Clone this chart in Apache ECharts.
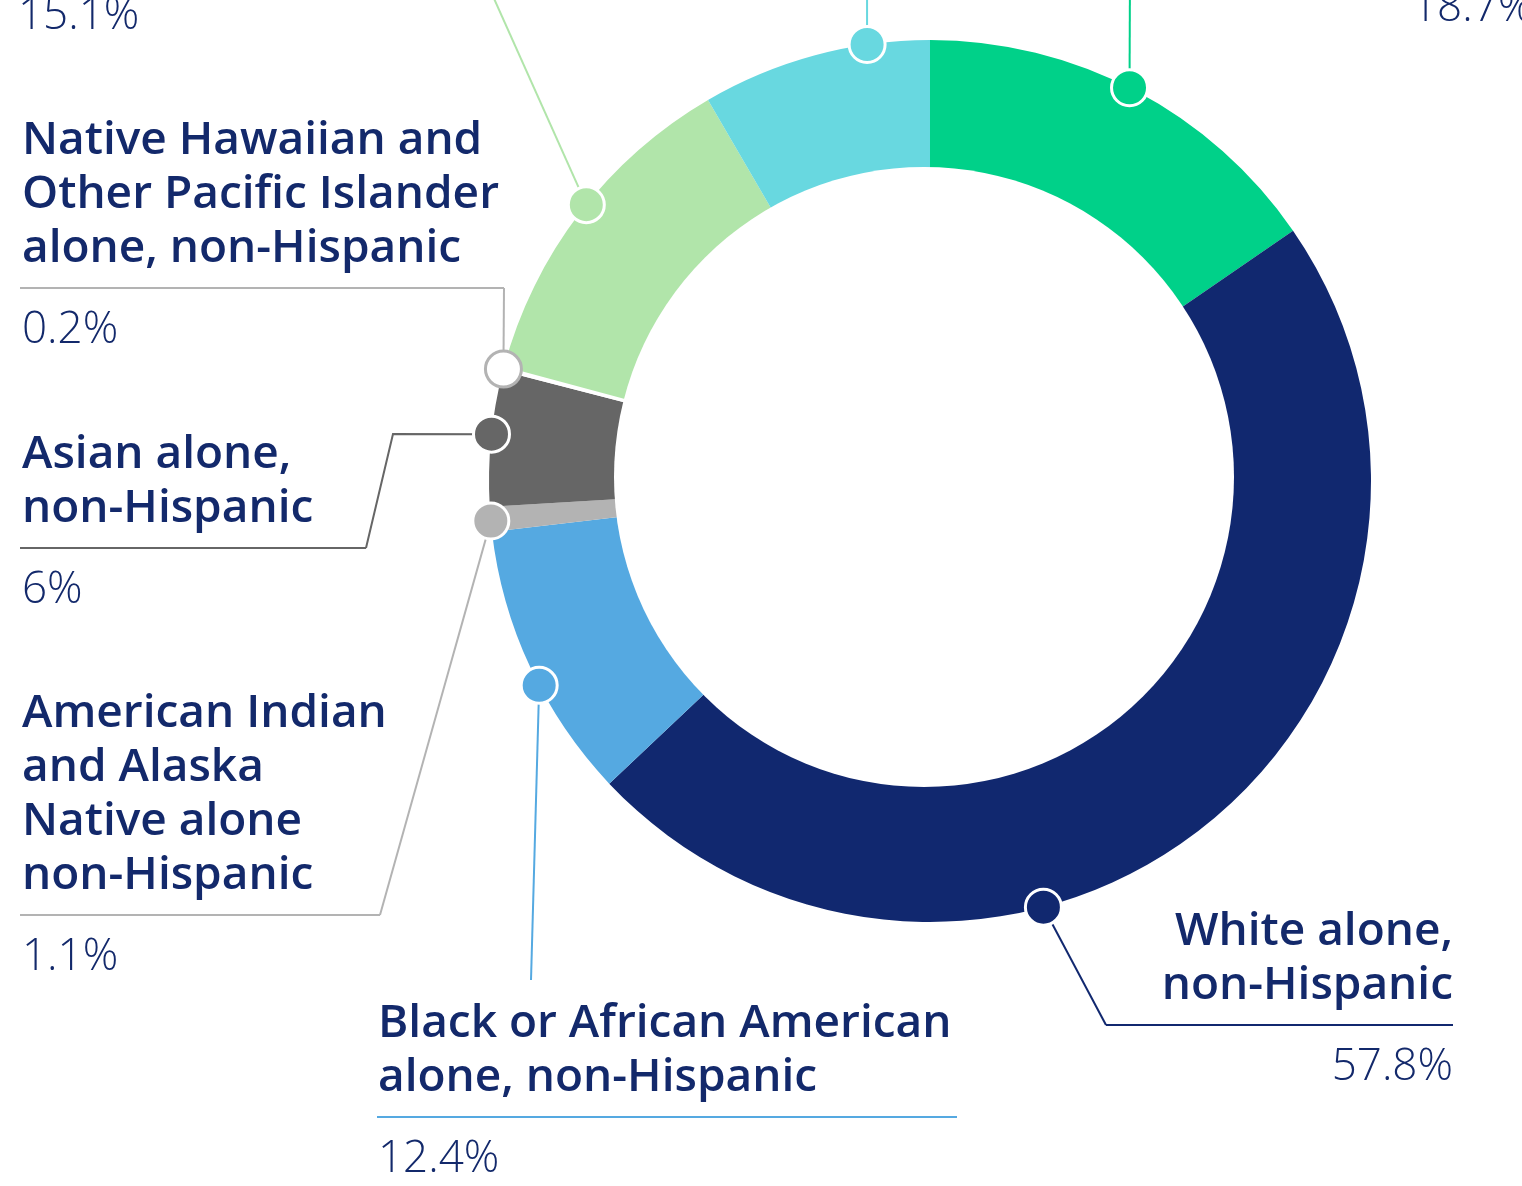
<!DOCTYPE html>
<html>
<head>
<meta charset="utf-8">
<script src="https://cdn.jsdelivr.net/npm/echarts@6/dist/echarts.min.js"></script>
<style>
html,body{margin:0;padding:0;background:#ffffff;}
#chart{width:1522px;height:1186px;}
</style>
</head>
<body>
<div id="chart"></div>
<script>
// ---------- data ----------
const categories = [
  'Hispanic or Latino\n(any race)',
  'White alone,\nnon-Hispanic',
  'Black or African American\nalone, non-Hispanic',
  'American Indian\nand Alaska\nNative alone\nnon-Hispanic',
  'Asian alone,\nnon-Hispanic',
  'Native Hawaiian and\nOther Pacific Islander\nalone, non-Hispanic',
  'Some other race\nalone',
  'Two or more races'
];
const values = [18.7, 57.8, 12.4, 1.1, 6, 0.2, 15.1, 10.2];

// ---------- styles ----------
const palette   = ['#00D189', '#11286F', '#55A9E1', '#B3B3B3', '#666666', '#FFFFFF', '#B1E5AA', '#68D8E0'];
const lineColor = ['#00D189', '#11286F', '#55A9E1', '#B3B3B3', '#666666', '#B3B3B3', '#B1E5AA', '#68D8E0'];
const TEXT = '#13296B';
const CENTER = [930, 481];
const R_OUT = 441;
const HOLE = { cx: 924, cy: 477, r: 310 };
const NAME_FONT = 'Open Sans', PCT_FONT = 'Open Sans';
const NAME_GAP = 12, PCT_GAP = 20;

// ---------- label layout (angles in degrees clockwise from 12 o'clock) ----------
const layout = [
  { angle: 26.9,  leader: [[1130, -34]],             under: [[1130, -34], [1700, -34]], x: 1412, align: 'left',  uy: -34 },
  { angle: 165.1, leader: [[1106, 1025]],            under: [[1106, 1025], [1453, 1025]], x: 1453, align: 'right', uy: 1025 },
  { angle: 242.4, leader: [[531, 980]],              under: [[377, 1117], [957, 1117]],  x: 378,  align: 'left',  uy: 1117 },
  { angle: 264.8, leader: [[380, 915]],              under: [[20, 915], [380, 915]],     x: 22,   align: 'left',  uy: 915 },
  { angle: 276.1, leader: [[393, 434], [366, 548]],  under: [[20, 548], [366, 548]],     x: 22,   align: 'left',  uy: 548 },
  { angle: 284.7, leader: [[504, 288]],              under: [[20, 288], [504, 288]],     x: 22,   align: 'left',  uy: 288 },
  { angle: 308.8, leader: [[483, -26]],              under: [[20, -26], [483, -26]],     x: 18,   align: 'left',  uy: -26 },
  { angle: 351.8, leader: [[867, -120]],             under: [[867, -120], [1250, -120]], x: 880,  align: 'left',  uy: -120 }
];

function markerPx(i) {
  const a = layout[i].angle * Math.PI / 180;
  return [CENTER[0] + R_OUT * Math.sin(a), CENTER[1] - R_OUT * Math.cos(a)];
}

const ringData = categories.map((c, i) => ({
  name: c, value: values[i],
  itemStyle: { color: palette[i] },
  labelLine: { lineStyle: { color: lineColor[i] } }
}));
const pctData = categories.map((c, i) => ({
  name: c, value: values[i],
  itemStyle: { color: 'rgba(0,0,0,0)' },
  labelLine: { lineStyle: { color: lineColor[i] } }
}));

const chart = echarts.init(document.getElementById('chart'), null, { renderer: 'canvas' });
chart.setOption({
  animation: false,
  backgroundColor: '#ffffff',
  polar: { center: CENTER, radius: R_OUT },
  angleAxis: { type: 'value', min: 0, max: 360, startAngle: 90, clockwise: true, show: false },
  radiusAxis: { type: 'value', min: 0, max: 1, show: false },
  graphic: [{
    type: 'circle', z: 5, silent: true,
    shape: { cx: HOLE.cx, cy: HOLE.cy, r: HOLE.r },
    style: { fill: '#ffffff' }
  }],
  series: [
    {
      type: 'pie',
      center: CENTER,
      radius: [290, R_OUT],
      startAngle: 90,
      clockwise: true,
      avoidLabelOverlap: false,
      silent: true,
      z: 2,
      emphasis: { disabled: true },
      itemStyle: { borderWidth: 0 },
      data: ringData,
      label: {
        show: true, position: 'outside',
        formatter: p => p.name,
        width: 900, overflow: 'none',
        fontFamily: NAME_FONT, fontWeight: 600, fontSize: 46, lineHeight: 54,
        color: TEXT
      },
      labelLine: { show: true, smooth: false, length: 5, length2: 5, lineStyle: { width: 2 } },
      labelLayout: function (p) {
        const L = layout[p.dataIndex];
        return {
          x: L.x, y: L.uy - NAME_GAP, align: L.align, verticalAlign: 'bottom', width: 900,
          labelLinePoints: [markerPx(p.dataIndex)].concat(L.leader)
        };
      }
    },
    {
      type: 'pie',
      center: CENTER,
      radius: [290, R_OUT],
      startAngle: 90,
      clockwise: true,
      avoidLabelOverlap: false,
      silent: true,
      z: 2,
      emphasis: { disabled: true },
      itemStyle: { borderWidth: 0 },
      data: pctData,
      label: {
        show: true, position: 'outside',
        formatter: p => p.value + '%',
        width: 900, overflow: 'none',
        fontFamily: PCT_FONT, fontWeight: 300, fontSize: 44, lineHeight: 44,
        color: TEXT
      },
      labelLine: { show: true, smooth: false, length: 5, length2: 5, lineStyle: { width: 2 } },
      labelLayout: function (p) {
        const L = layout[p.dataIndex];
        return {
          x: L.x, y: L.uy + PCT_GAP, align: L.align, verticalAlign: 'top', width: 900,
          labelLinePoints: L.under
        };
      }
    },
    {
      type: 'scatter',
      coordinateSystem: 'polar',
      symbol: 'circle',
      symbolSize: 36,
      silent: true,
      z: 10,
      data: layout.map((L, i) => ({
        value: [1, L.angle],
        itemStyle: {
          color: palette[i],
          borderColor: i === 5 ? '#B3B3B3' : '#FFFFFF',
          borderWidth: 3,
          opacity: 1
        }
      }))
    }
  ]
});
</script>
</body>
</html>
